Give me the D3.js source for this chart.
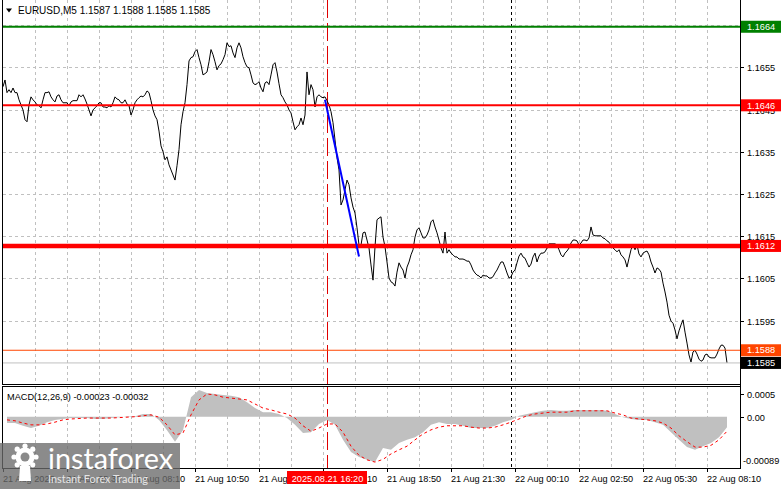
<!DOCTYPE html>
<html><head><meta charset="utf-8">
<script src="https://cdn.jsdelivr.net/npm/d3@7"></script>
<style>html,body{margin:0;padding:0;background:#fff;}svg{display:block;font-family:"Liberation Sans",Arial,sans-serif;}</style>
</head><body><svg id="c" width="781" height="489"></svg>
<script>
const symbolTitle = "EURUSD,M5";
const ohlc = ["1.1587", "1.1588", "1.1585", "1.1585"];
// close of each M5 bar, starting 21 Aug 02:50
const closes = [
1.16504,1.16520,1.16490,1.16497,1.16490,1.16501,1.16490,1.16490,1.16473,1.16461,1.16449,1.16426,1.16421,1.16461,1.16480,1.16473,
1.16468,1.16461,1.16459,1.16454,1.16473,1.16490,1.16490,1.16492,1.16480,1.16473,1.16468,1.16482,1.16485,1.16473,1.16466,1.16466,
1.16466,1.16459,1.16468,1.16471,1.16471,1.16471,1.16485,1.16480,1.16485,1.16475,1.16463,1.16449,1.16435,1.16449,1.16454,1.16459,
1.16466,1.16466,1.16456,1.16456,1.16454,1.16459,1.16456,1.16466,1.16480,1.16475,1.16473,1.16466,1.16466,1.16473,1.16463,1.16459,
1.16437,1.16449,1.16466,1.16473,1.16478,1.16482,1.16480,1.16485,1.16494,1.16490,1.16471,1.16449,1.16435,1.16426,1.16399,1.16364,
1.16350,1.16331,1.16338,1.16319,1.16307,1.16295,1.16283,1.16317,1.16355,1.16414,1.16445,1.16466,1.16509,1.16565,1.16573,1.16575,
1.16587,1.16592,1.16573,1.16556,1.16532,1.16535,1.16539,1.16563,1.16592,1.16580,1.16563,1.16544,1.16554,1.16558,1.16568,1.16580,
1.16608,1.16599,1.16601,1.16584,1.16573,1.16596,1.16608,1.16596,1.16575,1.16561,1.16551,1.16549,1.16532,1.16513,1.16509,1.16511,
1.16516,1.16501,1.16492,1.16513,1.16516,1.16509,1.16532,1.16556,1.16561,1.16539,1.16511,1.16485,1.16478,1.16468,1.16461,1.16449,
1.16442,1.16421,1.16402,1.16409,1.16414,1.16430,1.16414,1.16437,1.16539,1.16485,1.16509,1.16497,1.16456,1.16480,1.16485,1.16480,
1.16478,1.16480,1.16471,1.16461,1.16445,1.16419,1.16378,1.16336,1.16307,1.16224,1.16236,1.16260,1.16283,1.16272,1.16241,1.16219,
1.16205,1.16170,1.16129,1.16129,1.16158,1.16160,1.16141,1.16122,1.16082,1.16046,1.16125,1.16189,1.16193,1.16196,1.16148,1.16125,
1.16089,1.16051,1.16042,1.16039,1.16032,1.16065,1.16087,1.16077,1.16070,1.16051,1.16077,1.16089,1.16106,1.16118,1.16148,1.16165,
1.16170,1.16158,1.16146,1.16146,1.16153,1.16165,1.16184,1.16189,1.16172,1.16158,1.16141,1.16122,1.16110,1.16160,1.16110,1.16118,
1.16110,1.16106,1.16101,1.16101,1.16096,1.16096,1.16096,1.16094,1.16091,1.16091,1.16082,1.16070,1.16063,1.16058,1.16056,1.16051,
1.16058,1.16056,1.16056,1.16051,1.16051,1.16054,1.16063,1.16070,1.16080,1.16089,1.16089,1.16077,1.16063,1.16051,1.16054,1.16065,
1.16070,1.16087,1.16103,1.16110,1.16101,1.16098,1.16087,1.16077,1.16084,1.16101,1.16110,1.16089,1.16103,1.16110,1.16110,1.16113,
1.16122,1.16132,1.16132,1.16132,1.16132,1.16129,1.16118,1.16106,1.16101,1.16110,1.16115,1.16122,1.16134,1.16141,1.16141,1.16139,
1.16129,1.16134,1.16141,1.16141,1.16139,1.16146,1.16172,1.16153,1.16151,1.16151,1.16151,1.16151,1.16146,1.16144,1.16139,1.16136,
1.16129,1.16122,1.16118,1.16113,1.16118,1.16106,1.16101,1.16094,1.16077,1.16098,1.16118,1.16129,1.16118,1.16129,1.16108,1.16101,
1.16110,1.16113,1.16115,1.16106,1.16089,1.16077,1.16063,1.16075,1.16072,1.16065,1.16039,1.16018,1.15994,1.15963,1.15949,1.15944,
1.15928,1.15907,1.15926,1.15940,1.15952,1.15923,1.15897,1.15869,1.15852,1.15876,1.15880,1.15871,1.15859,1.15854,1.15857,1.15869,
1.15871,1.15864,1.15862,1.15862,1.15862,1.15871,1.15883,1.15892,1.15892,1.15885,1.15850
];
const timeLabels = ["21 Aug 2025","21 Aug 05:30","21 Aug 08:10","21 Aug 10:50","21 Aug 13:30","21 Aug 16:10",
  "21 Aug 18:50","21 Aug 21:30","22 Aug 00:10","22 Aug 02:50","22 Aug 05:30","22 Aug 08:10"];
const barsPerLabel = 32;
const barsPerGrid = 16;
const daySeparatorBar = 254;      // 22 Aug 00:00
const markerBar = 162;            // 2025.08.21 16:20
const markerLabel = "2025.08.21 16:20";
const priceTicks = [1.1665, 1.1655, 1.1645, 1.1635, 1.1625, 1.1615, 1.1605, 1.1595];
const levelPrices = [1.16646, 1.1646, 1.16127, 1.1588, 1.1585];
const levelLabels = ["1.1664", "1.1646", "1.1612", "1.1588", "1.1585"];
const trendBars = [161, 178];
const trendPrices = [1.16473, 1.16102];
// MACD(12,26,9), sampled every 4 bars starting at bar 2 (units of 0.0001)
const macdStep = 4, macdFirstBar = 2;
const macdMain = [
-1.4,-1.4,-2,-2.5,-2,-1.2,-0.7,-0.5,
-0.3,-0.3,-0.3,-0.5,-0.5,-0.3,-0.1,0.1,
0.1,0.6,0.6,-0.7,-3,-5.5,-3,4.3,
5.9,5.2,5.0,4.8,4.6,4.3,3.2,1.9,
1.0,1.0,0.6,-0.3,-1.8,-3.6,-3.4,-1.6,
-0.7,-1.8,-5.1,-7.8,-8.9,-9.5,-10,-6.9,
-7.3,-5.8,-5.1,-4.5,-3.4,-1.8,-1.2,-1.6,
-1.6,-2.0,-2.5,-2.5,-2.5,-2,-1.2,-0.7,
0.2,0.6,1.0,1.3,1.5,1.3,1.3,1.5,
1.5,1.5,1.5,1.3,0.6,-0.1,-0.5,-0.7,
-0.7,-1.2,-1.8,-3.4,-5.1,-6.7,-7.3,-6.5,
-5.8,-4.5,-2.3];
const macdSignal = [
-0.7,-0.9,-1.4,-1.8,-1.8,-1.6,-1.2,-0.7,
-0.5,-0.4,-0.3,-0.3,-0.3,-0.3,-0.2,-0.1,
0,0.2,0.4,-0.1,-1.8,-4,-3.6,0.4,
3.7,5.0,4.8,4.3,4.1,3.9,3.7,2.8,
1.9,1.5,1.0,0.6,-0.3,-2.0,-3.2,-2.5,
-1.6,-1.6,-3.4,-6.5,-8.5,-9.5,-10,-9.4,
-8.2,-7.3,-6.5,-5.1,-3.8,-2.9,-2.3,-2,
-2,-2,-2.3,-2.5,-2.5,-2.3,-1.8,-1.2,
-0.5,0.2,0.6,0.8,1.0,1.0,1.0,1.3,
1.3,1.3,1.3,1.3,0.8,0.4,-0.3,-0.5,
-0.7,-0.9,-1.4,-2.5,-4.2,-5.5,-6.7,-6.7,
-6.3,-5.1,-3.2];
const macdTitle = "MACD(12,26,9) -0.00023 -0.00032";
const macdTicks = [0.0005, 0];
const macdTickLabels = ["0.0005", "0.00"];
const macdMinLabel = "-0.00089";
const macdMinValue = -0.00089;

const svg = d3.select("#c");
const W = 781, H = 489;
const L = 3, R = 740, mainTop = 0, mainBot = 384, mTop = 386, mBot = 468;

const x = d3.scaleLinear().domain([0, closes.length - 1]).range([3, 727]);
const y = d3.scaleLinear().domain([1.1655, 1.1595]).range([67.3, 320.7]);
const ym = d3.scaleLinear().domain([0.0005, 0]).range([394, 416.7]);

const defs = svg.append("defs");
defs.append("clipPath").attr("id", "clipMain").append("rect").attr("x", L).attr("y", mainTop).attr("width", R - L).attr("height", mainBot - mainTop);
defs.append("clipPath").attr("id", "clipMacd").append("rect").attr("x", L).attr("y", mTop).attr("width", R - L).attr("height", mBot - mTop);

// vertical grid
const gridBars = d3.range(barsPerGrid, 400, barsPerGrid).filter(b => x(b) < R - 4);
const grid = svg.append("g").attr("stroke", "#c0c0c0").attr("stroke-dasharray", "3,3").attr("stroke-width", 1);
gridBars.forEach(b => {
  const xx = Math.round(x(b)) + 0.5;
  grid.append("line").attr("x1", xx).attr("x2", xx).attr("y1", mainTop).attr("y2", mainBot);
  grid.append("line").attr("x1", xx).attr("x2", xx).attr("y1", mTop).attr("y2", mBot);
});
priceTicks.forEach(p => {
  const yy = Math.round(y(p)) + 0.5;
  grid.append("line").attr("x1", L).attr("x2", R).attr("y1", yy).attr("y2", yy);
});

// day separator
const ds = Math.round(x(daySeparatorBar)) + 0.5;
[[mainTop, mainBot], [mTop, mBot]].forEach(([a, b]) =>
  svg.append("line").attr("x1", ds).attr("x2", ds).attr("y1", a).attr("y2", b)
    .attr("stroke", "#000").attr("stroke-dasharray", "3,3"));

// marker vertical line
const mx = Math.round(x(markerBar)) + 0.5;
[[mainTop, mainBot], [mTop, mBot]].forEach(([a, b]) =>
  svg.append("line").attr("x1", mx).attr("x2", mx).attr("y1", a).attr("y2", b)
    .attr("stroke", "#e00000").attr("stroke-dasharray", "18,5"));

// price line
const main = svg.append("g").attr("clip-path", "url(#clipMain)");
main.append("path").datum(closes)
  .attr("d", d3.line().x((d, i) => x(i)).y(d => y(d)))
  .attr("fill", "none").attr("stroke", "#000").attr("stroke-width", 1);

// horizontal levels
const levelColors = ["#008000", "#ff0000", "#ff0000", "#ff4500", "#c0c0c0"];
const levelWidths = [2, 2, 4.5, 1, 1];
levelPrices.forEach((p, i) => {
  const yy = y(p);
  main.append("line").attr("x1", L).attr("x2", R).attr("y1", yy).attr("y2", yy)
    .attr("stroke", levelColors[i]).attr("stroke-width", levelWidths[i]);
});

// trend line
main.append("line")
  .attr("x1", x(trendBars[0])).attr("y1", y(trendPrices[0]))
  .attr("x2", x(trendBars[1])).attr("y2", y(trendPrices[1]))
  .attr("stroke", "#0000ff").attr("stroke-width", 2);

// MACD
const mg = svg.append("g").attr("clip-path", "url(#clipMacd)");
const mData = macdMain.map((v, i) => ({ b: macdFirstBar + i * macdStep, v: v * 1e-4 }));
const sData = macdSignal.map((v, i) => ({ b: macdFirstBar + i * macdStep, v: v * 1e-4 }));
mg.append("path").datum(mData)
  .attr("d", d3.area().x(d => x(d.b)).y0(ym(0)).y1(d => ym(d.v)))
  .attr("fill", "#c0c0c0");
mg.append("path").datum(sData)
  .attr("d", d3.line().x(d => x(d.b)).y(d => ym(d.v)))
  .attr("fill", "none").attr("stroke", "#ff0000").attr("stroke-width", 1).attr("stroke-dasharray", "3,3");

// borders
const bord = svg.append("g").attr("stroke", "#000").attr("stroke-width", 1).attr("fill", "none");
bord.append("line").attr("x1", 2.5).attr("x2", 2.5).attr("y1", 0).attr("y2", mainBot + 0.5);
bord.append("line").attr("x1", 2.5).attr("x2", 2.5).attr("y1", mTop).attr("y2", mBot + 0.5);
bord.append("line").attr("x1", R + 0.5).attr("x2", R + 0.5).attr("y1", 0).attr("y2", mBot + 0.5);
bord.append("line").attr("x1", 2).attr("x2", R + 1).attr("y1", mainBot + 0.5).attr("y2", mainBot + 0.5);
bord.append("line").attr("x1", 2).attr("x2", R + 1).attr("y1", mTop + 0.5).attr("y2", mTop + 0.5);
bord.append("line").attr("x1", 2).attr("x2", R + 1).attr("y1", mBot + 0.5).attr("y2", mBot + 0.5);

const fs = 9.2;
// price axis
const pa = svg.append("g").attr("font-size", fs).attr("fill", "#000");
priceTicks.forEach(p => {
  const yy = Math.round(y(p)) + 0.5;
  pa.append("line").attr("x1", R).attr("x2", R + 4).attr("y1", yy).attr("y2", yy).attr("stroke", "#000");
  pa.append("text").attr("x", 747).attr("y", yy).attr("dy", "0.35em").text(p.toFixed(4));
});
// level labels
const labelBg = ["#008000", "#ff0000", "#ff0000", "#ff4500", "#000000"];
levelPrices.forEach((p, i) => {
  const yy = y(p);
  svg.append("rect").attr("x", R + 1).attr("y", yy - 6).attr("width", W - R - 1).attr("height", 12).attr("fill", labelBg[i]);
  svg.append("text").attr("x", 747).attr("y", yy).attr("dy", "0.35em").attr("font-size", fs).attr("fill", "#fff").text(levelLabels[i]);
});

// MACD axis
macdTicks.forEach((v, i) => {
  const yy = Math.round(ym(v)) + 0.5;
  pa.append("line").attr("x1", R).attr("x2", R + 4).attr("y1", yy).attr("y2", yy).attr("stroke", "#000");
  pa.append("text").attr("x", 747).attr("y", yy).attr("dy", "0.35em").text(macdTickLabels[i]);
});
pa.append("text").attr("x", 743).attr("y", ym(macdMinValue) + 4).attr("dy", "0.35em").text(macdMinLabel);

// time axis
const ta = svg.append("g").attr("font-size", fs).attr("fill", "#000");
timeLabels.forEach((t, i) => {
  const xx = Math.round(x(i * barsPerLabel)) + 0.5;
  ta.append("line").attr("x1", xx).attr("x2", xx).attr("y1", mBot).attr("y2", mBot + 4).attr("stroke", "#000");
  ta.append("text").attr("x", xx - 0.5).attr("y", 482).text(t);
});
// marker label
svg.append("rect").attr("x", mx - 40.5).attr("y", 471).attr("width", 80).attr("height", 13).attr("fill", "#ff0000");
svg.append("text").attr("x", mx).attr("y", 481.5).attr("text-anchor", "middle").attr("font-size", fs).attr("fill", "#fff").text(markerLabel);

// header
svg.append("path").attr("d", "M6,8.5 L12,8.5 L9,12.5 Z").attr("fill", "#000");
svg.append("text").attr("x", 18).attr("y", 14).attr("font-size", 10).attr("fill", "#000")
  .text(symbolTitle + "  " + ohlc.join(" "));
svg.append("text").attr("x", 7).attr("y", 399.5).attr("font-size", fs).attr("fill", "#000").text(macdTitle);

// watermark
const wm = svg.append("g");
wm.append("rect").attr("x", 0).attr("y", 443).attr("width", 180).attr("height", 46).attr("fill", "#6a6a6a").attr("opacity", 0.78);
const gx = 25, gy = 457;
const gear = d3.range(8).map(k => {
  const a = k * Math.PI / 4;
  return [gx + Math.cos(a) * 11, gy + Math.sin(a) * 11];
});
gear.forEach(([a, b]) => wm.append("circle").attr("cx", a).attr("cy", b).attr("r", 2.6).attr("fill", "#fff"));
wm.append("circle").attr("cx", gx).attr("cy", gy).attr("r", 9.5).attr("fill", "#fff");
wm.append("circle").attr("cx", gx).attr("cy", gy).attr("r", 4.5).attr("fill", "#8a8a8a");
wm.append("path").attr("d", `M${gx-5},${gy+9} L${gx+5},${gy+9} L${gx+6},${gy+24} L${gx-6},${gy+24} Z`).attr("fill", "#fff");
wm.append("text").attr("x", 48).attr("y", 469).attr("font-family", "Lato, 'Open Sans', sans-serif")
  .attr("font-size", 29).attr("fill", "#fff").attr("textLength", 125).attr("lengthAdjust", "spacingAndGlyphs").text("instaforex");
wm.append("text").attr("x", 48).attr("y", 483).attr("font-family", "Lato, 'Open Sans', sans-serif")
  .attr("font-size", 11).attr("fill", "#e6e6e6").attr("textLength", 100).attr("lengthAdjust", "spacingAndGlyphs").text("Instant Forex Trading");
</script></body></html>
